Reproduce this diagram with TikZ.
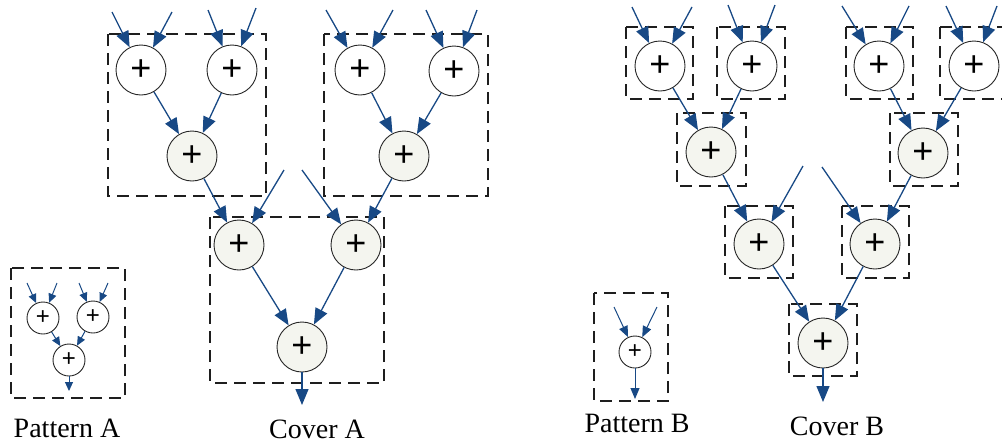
\documentclass[tikz,border=0pt]{standalone}
\usepackage{fontspec}
\setmainfont{Liberation Serif}
\newfontfamily\plusfont{Liberation Sans}
\usetikzlibrary{arrows.meta}
\definecolor{flowblue}{RGB}{24,73,133}
\definecolor{addfill}{RGB}{244,245,239}
\definecolor{boxgray}{RGB}{30,30,30}
\begin{document}
\begin{tikzpicture}[x=1pt,y=-1pt,
    add/.style={circle,draw=black!85,line width=0.9pt,fill=white,minimum size=50pt,inner sep=0pt,
        font=\plusfont\fontsize{36}{36}\selectfont},
    addg/.style={add,fill=addfill},
    addsmall/.style={add,minimum size=32pt,font=\plusfont\fontsize{24}{24}\selectfont},
    flow/.style={draw=flowblue,line width=1.3pt,-{Triangle[length=16pt,width=13pt]}},
    flowsmall/.style={flow,line width=1pt,-{Triangle[length=9pt,width=8pt]}},
    grp/.style={draw=boxgray,line width=2.6pt,dash pattern=on 12pt off 7pt},
    lbl/.style={anchor=base,font=\fontsize{28}{30}\selectfont}]
    \useasboundingbox (0,0) rectangle (1002,445);

    % Pattern A
    \draw[grp] (11,268) rectangle (125,398);
    \node[addsmall] (p1) at (43,318) {+};
    \node[addsmall] (p2) at (93,317) {+};
    \node[addsmall] (p3) at (69,360) {+};
    \coordinate (pi1) at (27,283);
    \coordinate (pi2) at (57,283);
    \coordinate (pi3) at (79,283);
    \coordinate (pi4) at (108,283);
    \coordinate (po) at (69,391);
    \draw[flowsmall] (pi1) -- (p1);
    \draw[flowsmall] (pi2) -- (p1);
    \draw[flowsmall] (pi3) -- (p2);
    \draw[flowsmall] (pi4) -- (p2);
    \draw[flowsmall] (p1) -- (p3);
    \draw[flowsmall] (p2) -- (p3);
    \draw[flowsmall] (p3) -- (po);
    \node[lbl] (labPA) at (67,437) {Pattern A};

    % Cover A
    \draw[grp] (108,34) rectangle (266,196);
    \draw[grp] (324,34) rectangle (488,196);
    \draw[grp] (210,217) rectangle (384,383);
    \node[add] (a1) at (141,70) {+};
    \node[add] (a2) at (232,70) {+};
    \node[addg] (a3) at (192,156) {+};
    \node[add] (a4) at (360,70) {+};
    \node[add] (a5) at (454,71) {+};
    \node[addg] (a6) at (404,156) {+};
    \node[addg] (a7) at (239,245) {+};
    \node[addg] (a8) at (356,245) {+};
    \node[addg] (a9) at (302,347) {+};
    \coordinate (ai1) at (112,12);
    \coordinate (ai2) at (172,12);
    \coordinate (ai3) at (208,10);
    \coordinate (ai4) at (256,8);
    \coordinate (ai5) at (326,10);
    \coordinate (ai6) at (393,10);
    \coordinate (ai7) at (426,10);
    \coordinate (ai8) at (477,10);
    \coordinate (ai9) at (284,170);
    \coordinate (ai10) at (302,170);
    \coordinate (ao) at (302,405);
    \draw[flow] (ai1) -- (a1);
    \draw[flow] (ai2) -- (a1);
    \draw[flow] (ai3) -- (a2);
    \draw[flow] (ai4) -- (a2);
    \draw[flow] (ai5) -- (a4);
    \draw[flow] (ai6) -- (a4);
    \draw[flow] (ai7) -- (a5);
    \draw[flow] (ai8) -- (a5);
    \draw[flow] (a1) -- (a3);
    \draw[flow] (a2) -- (a3);
    \draw[flow] (a4) -- (a6);
    \draw[flow] (a5) -- (a6);
    \draw[flow] (a3) -- (a7);
    \draw[flow] (ai9) -- (a7);
    \draw[flow] (ai10) -- (a8);
    \draw[flow] (a6) -- (a8);
    \draw[flow] (a7) -- (a9);
    \draw[flow] (a8) -- (a9);
    \draw[flow] (a9) -- (ao);
    \node[lbl] (labCA) at (317,438) {Cover A};

    % Pattern B
    \draw[grp] (594,293) rectangle (668,401);
    \node[addsmall] (q1) at (635,352) {+};
    \coordinate (qi1) at (614,307);
    \coordinate (qi2) at (657,307);
    \coordinate (qo) at (635,399);
    \draw[flow,line width=1pt,-{Triangle[length=11pt,width=9pt]}] (qi1) -- (q1);
    \draw[flow,line width=1pt,-{Triangle[length=11pt,width=9pt]}] (qi2) -- (q1);
    \draw[flow,line width=1pt,-{Triangle[length=11pt,width=9pt]}] (q1) -- (qo);
    \node[lbl] (labPB) at (637,432) {Pattern B};

    % Cover B
    \draw[grp] (626,27) rectangle (693,99);
    \draw[grp] (717,27) rectangle (785,99);
    \draw[grp] (846,27) rectangle (913,99);
    \draw[grp] (940,27) rectangle (1007,99);
    \draw[grp] (677,113) rectangle (746,186);
    \draw[grp] (890,113) rectangle (958,186);
    \draw[grp] (725,206) rectangle (793,278);
    \draw[grp] (842,206) rectangle (909,278);
    \draw[grp] (789,304) rectangle (857,376);
    \node[add] (b1) at (660,66) {+};
    \node[add] (b2) at (752,66) {+};
    \node[add] (b4) at (879,66) {+};
    \node[add] (b5) at (974,66) {+};
    \node[addg] (b3) at (711,152) {+};
    \node[addg] (b6) at (923,153) {+};
    \node[addg] (b7) at (759,244) {+};
    \node[addg] (b8) at (875,244) {+};
    \node[addg] (b9) at (823,343) {+};
    \coordinate (bi1) at (632,7);
    \coordinate (bi2) at (692,7);
    \coordinate (bi3) at (728,5);
    \coordinate (bi4) at (775,5);
    \coordinate (bi5) at (842,6);
    \coordinate (bi6) at (909,6);
    \coordinate (bi7) at (946,6);
    \coordinate (bi8) at (997,6);
    \coordinate (bi9) at (803,166);
    \coordinate (bi10) at (822,167);
    \coordinate (bo) at (823,402);
    \draw[flow] (bi1) -- (b1);
    \draw[flow] (bi2) -- (b1);
    \draw[flow] (bi3) -- (b2);
    \draw[flow] (bi4) -- (b2);
    \draw[flow] (bi5) -- (b4);
    \draw[flow] (bi6) -- (b4);
    \draw[flow] (bi7) -- (b5);
    \draw[flow] (bi8) -- (b5);
    \draw[flow] (b1) -- (b3);
    \draw[flow] (b2) -- (b3);
    \draw[flow] (b4) -- (b6);
    \draw[flow] (b5) -- (b6);
    \draw[flow] (b3) -- (b7);
    \draw[flow] (bi9) -- (b7);
    \draw[flow] (bi10) -- (b8);
    \draw[flow] (b6) -- (b8);
    \draw[flow] (b7) -- (b9);
    \draw[flow] (b8) -- (b9);
    \draw[flow] (b9) -- (bo);
    \node[lbl] (labCB) at (837,435) {Cover B};
\end{tikzpicture}
\end{document}
